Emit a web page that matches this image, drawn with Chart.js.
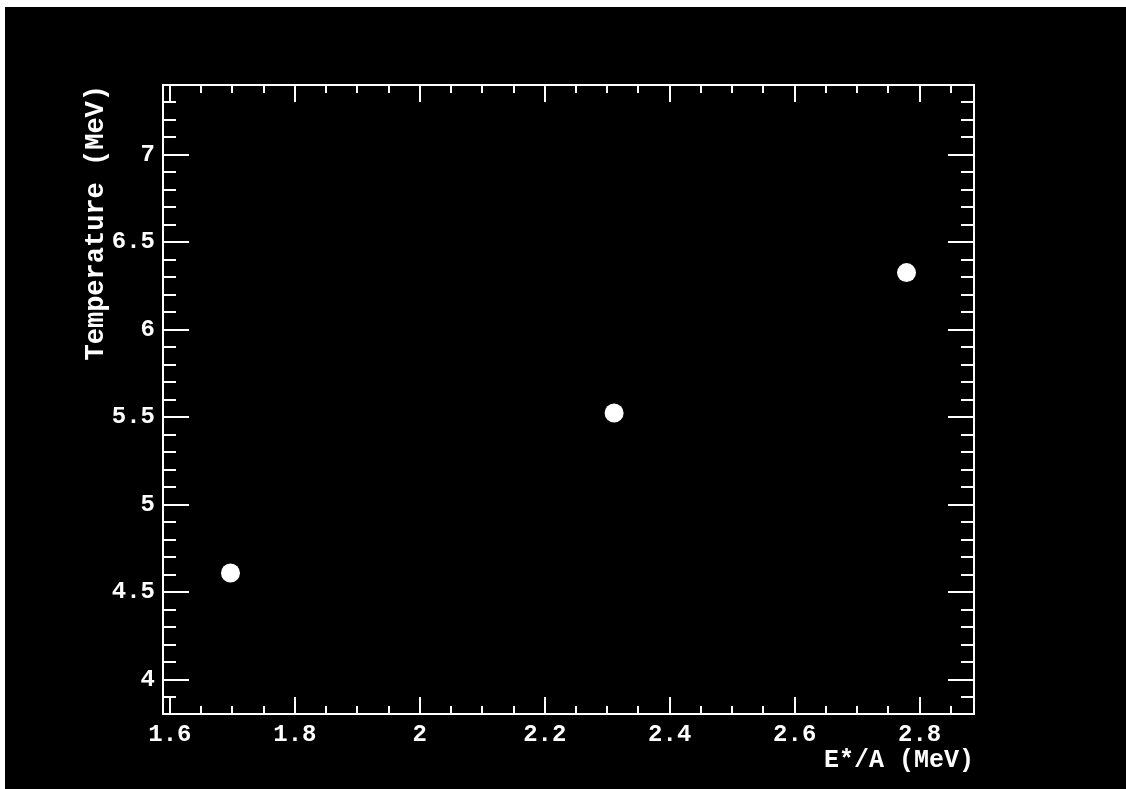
<!DOCTYPE html>
<html>
<head>
<meta charset="utf-8">
<script src="https://cdn.jsdelivr.net/npm/chart.js@4/dist/chart.umd.min.js"></script>
<style>
  html, body { margin: 0; padding: 0; background: #fff; }
  canvas { display: block; }
</style>
</head>
<body>
<canvas id="myChart" width="1126" height="789"></canvas>
<script>
// data
var energy = [1.697, 2.311, 2.779];        // E*/A (MeV)
var temperature = [4.61, 5.524, 6.326];    // Temperature (MeV)

var xTickLabels = [1.6, 1.8, 2, 2.2, 2.4, 2.6, 2.8];
var yTickLabels = [4, 4.5, 5, 5.5, 6, 6.5, 7];

var xRange = [1.589, 2.887];
var yRange = [3.804, 7.398];

var fontFamily = "'Liberation Mono', 'Courier New', monospace";

// black page with a thin white margin, like the original
var backdrop = {
  id: 'backdrop',
  beforeDraw: function(chart) {
    var ctx = chart.ctx;
    ctx.save();
    ctx.fillStyle = '#000';
    ctx.fillRect(5, 7, chart.width - 5, chart.height - 7);
    ctx.restore();
  }
};

// frame and inward ticks on all four sides
var frame = {
  id: 'frame',
  afterDraw: function(chart) {
    var ctx = chart.ctx;
    var a = chart.chartArea;
    var xs = chart.scales.x, ys = chart.scales.y;
    ctx.save();
    ctx.strokeStyle = '#fff';
    ctx.lineWidth = 2;
    ctx.strokeRect(a.left, a.top, a.right - a.left, a.bottom - a.top);

    ctx.beginPath();
    // x ticks, minor every 0.05, major every 0.2
    for (var i = 0; ; i++) {
      var v = 1.6 + i * 0.05;
      if (v > xs.max) break;
      var px = Math.round(xs.getPixelForValue(v));
      var major = (i % 4 === 0);
      var len = major ? 17 : 8;
      ctx.moveTo(px, a.bottom); ctx.lineTo(px, a.bottom - len);
      ctx.moveTo(px, a.top); ctx.lineTo(px, a.top + len);
    }
    // y ticks, minor every 0.1, major every 0.5
    for (var j = -1; ; j++) {
      var w = 4 + j * 0.1;
      if (w > ys.max) break;
      if (w < ys.min) continue;
      var py = Math.round(ys.getPixelForValue(w));
      var majorY = ((j + 100) % 5 === 0);
      var lenY = majorY ? 26 : 13;
      ctx.moveTo(a.left, py); ctx.lineTo(a.left + lenY, py);
      ctx.moveTo(a.right, py); ctx.lineTo(a.right - lenY, py);
    }
    ctx.stroke();
    ctx.restore();
  }
};

var ctx = document.getElementById('myChart').getContext('2d');
var chart = new Chart(ctx, {
  type: 'scatter',
  data: {
    datasets: [{
      label: 'T vs E*/A',
      data: energy.map(function(e, i) { return { x: e, y: temperature[i] }; }),
      backgroundColor: '#fff',
      borderWidth: 0,
      pointRadius: 9.5,
      pointHoverRadius: 9.5
    }]
  },
  options: {
    responsive: false,
    animation: false,
    devicePixelRatio: 1,
    layout: { padding: { left: 0, top: 85, right: 152, bottom: 0 } },
    plugins: {
      legend: { display: false },
      tooltip: { enabled: false }
    },
    scales: {
      x: {
        type: 'linear',
        min: xRange[0],
        max: xRange[1],
        grid: { display: false, drawTicks: false },
        border: { display: false },
        afterBuildTicks: function(scale) {
          scale.ticks = xTickLabels.map(function(v) { return { value: v }; });
        },
        afterFit: function(scale) { scale.height = 75; },
        ticks: {
          color: '#fff',
          padding: 7,
          maxRotation: 0,
          autoSkip: false,
          font: { family: fontFamily, size: 24, weight: 'bold' },
          callback: function(v) { return String(v); }
        },
        title: {
          display: true,
          text: 'E*/A (MeV)',
          align: 'end',
          color: '#fff',
          padding: { top: 0, bottom: 16 },
          font: { family: fontFamily, size: 25, weight: 'bold', lineHeight: 1 }
        }
      },
      y: {
        type: 'linear',
        min: yRange[0],
        max: yRange[1],
        grid: { display: false, drawTicks: false },
        border: { display: false },
        afterBuildTicks: function(scale) {
          scale.ticks = yTickLabels.map(function(v) { return { value: v }; });
        },
        afterFit: function(scale) { scale.width = 163; },
        ticks: {
          color: '#fff',
          padding: 8,
          autoSkip: false,
          font: { family: fontFamily, size: 24, weight: 'bold' },
          callback: function(v) { return String(v); }
        },
        title: {
          display: true,
          text: 'Temperature (MeV)',
          align: 'end',
          color: '#fff',
          padding: { top: 83, bottom: 0 },
          font: { family: fontFamily, size: 27, weight: 'bold', lineHeight: 1 }
        }
      }
    }
  },
  plugins: [backdrop, frame]
});
</script>
</body>
</html>
